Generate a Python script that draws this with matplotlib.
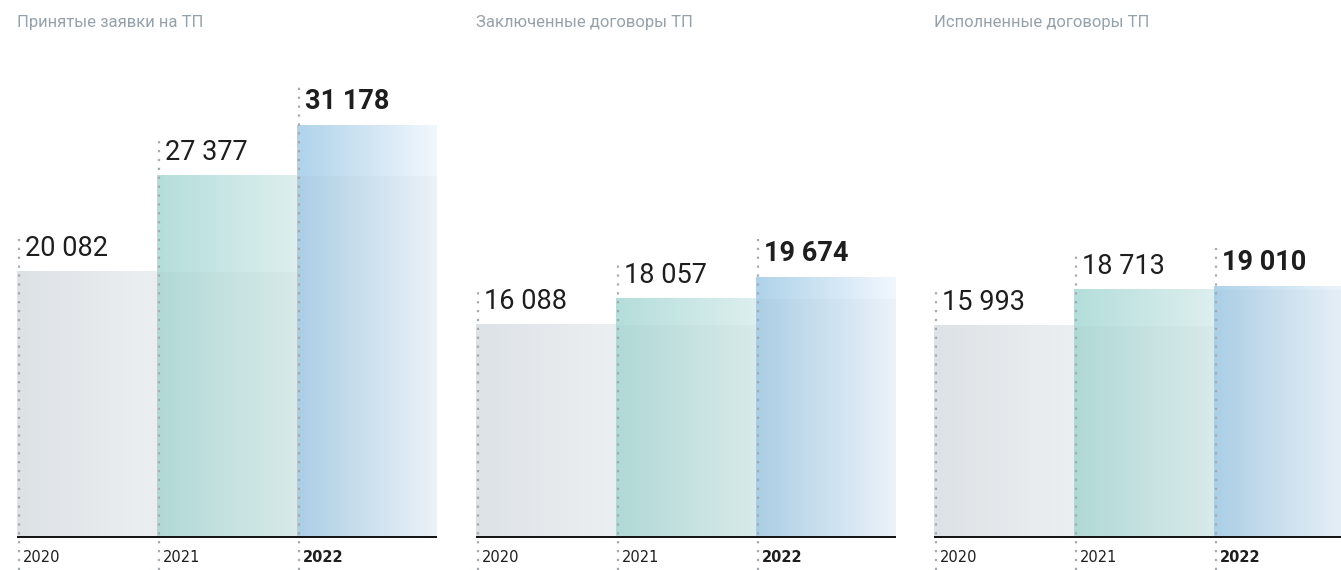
import numpy as np
import matplotlib
matplotlib.use("Agg")
import matplotlib.pyplot as plt
from matplotlib.colors import LinearSegmentedColormap

# panel titles and values
titles = ["Принятые заявки на ТП", "Заключенные договоры ТП", "Исполненные договоры ТП"]
years = ["2020", "2021", "2022"]
accepted = [20082, 27377, 31178]
concluded = [16088, 18057, 19674]
executed = [15993, 18713, 19010]
panels = [accepted, concluded, executed]

# bar gradients (left colour -> right colour)
grads = [("#dde2e6", "#eceff2"), ("#b4dedb", "#ddefee"), ("#afd3ea", "#f1f7fd")]

fnt = ["Roboto", "DejaVu Sans"]

def fmt(v):
    return f"{v:,}".replace(",", " ")

W, H = 1341, 570
fig = plt.figure(figsize=(W / 100, H / 100), dpi=100)

k = 0.0132          # px per unit
base_px = 537       # baseline y in image px
ylo = -(H - base_px) / k
yhi = base_px / k
px = 1 / k          # one pixel in data units

lefts = [17, 476, 934]
panel_w = 420

for p, vals in enumerate(panels):
    ax = fig.add_axes([lefts[p] / W, 0, panel_w / W, 1])
    ax.set_xlim(0, 3)
    ax.axis("off")
    for i, v in enumerate(vals):
        cmap = LinearSegmentedColormap.from_list("g", grads[i])
        grad = np.linspace(0, 1, 256).reshape(1, -1)
        ax.imshow(grad, cmap=cmap, extent=[i, i + 1, 0, v], aspect="auto",
                  interpolation="bicubic", zorder=1)
        if i > 0:
            ax.fill_between([i, i + 1], 0, vals[i - 1], color="#000000", alpha=0.018,
                            lw=0, zorder=2)
        bold = i == 2
        ax.text(i + 8 / 140, v + 10 * px, fmt(v), fontsize=19.5, family=fnt,
                fontweight="bold" if bold else "normal", color="#1e1e1e",
                ha="left", va="bottom", zorder=4)
        ax.plot([i + 1.5 / 140, i + 1.5 / 140], [ylo, v + 38 * px], ls=(0, (1, 3)),
                color="#a4a9b2", lw=1.6, zorder=3, clip_on=False)
        ax.text(i + 6 / 140, -20 * px, years[i], fontsize=10.5, family="DejaVu Sans",
                fontweight="bold" if bold else "normal", color="#1e1e1e",
                ha="left", va="center", zorder=4)
    ax.axhline(0, color="#111111", lw=1.4, zorder=5)
    ax.set_ylim(ylo, yhi)
    ax.set_xlim(0, 3)
    ax.text(0, (base_px - 22) * px, titles[p], fontsize=12, family=fnt,
            color="#95a2ab", ha="left", va="center")

fig.savefig("out.png", dpi=100)
